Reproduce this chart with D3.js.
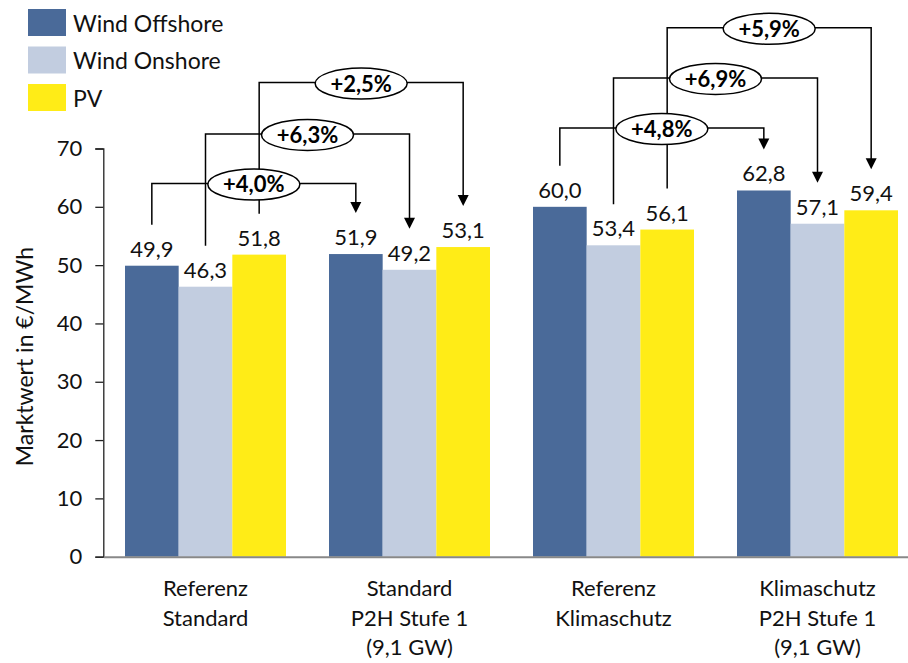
<!DOCTYPE html>
<html>
<head>
<meta charset="utf-8">
<script src="https://cdn.jsdelivr.net/npm/d3@7"></script>
<style>
  html, body { margin: 0; padding: 0; background: #fff; }
  svg { display: block; font-family: Lato, "Open Sans", sans-serif; }
</style>
</head>
<body>
<div id="chart"></div>
<script>
// Data
const categories = [
    ["Referenz", "Standard"],
    ["Standard", "P2H Stufe 1", "(9,1 GW)"],
    ["Referenz", "Klimaschutz"],
    ["Klimaschutz", "P2H Stufe 1", "(9,1 GW)"]
];
const seriesNames = ["Wind Offshore", "Wind Onshore", "PV"];
const offshore = [49.9, 51.9, 60.0, 62.8];
const onshore = [46.3, 49.2, 53.4, 57.1];
const pv = [51.8, 53.1, 56.1, 59.4];
const yTicks = [0, 10, 20, 30, 40, 50, 60, 70];

// change brackets: from group -> to group, for one series, drawn at a value level
const changes = [
    { from: 0, to: 1, series: 0, label: "+4,0%", level: 64.0 },
    { from: 0, to: 1, series: 1, label: "+6,3%", level: 72.5 },
    { from: 0, to: 1, series: 2, label: "+2,5%", level: 81.3 },
    { from: 2, to: 3, series: 0, label: "+4,8%", level: 73.5 },
    { from: 2, to: 3, series: 1, label: "+6,9%", level: 82.1 },
    { from: 2, to: 3, series: 2, label: "+5,9%", level: 90.7 }
];

const values = [offshore, onshore, pv];
const colors = ["#4a6a99", "#c2cde0", "#ffec17"];

const W = 908, H = 663;
const svg = d3.select("#chart").append("svg")
    .attr("width", W).attr("height", H);

const x0 = d3.scaleBand().domain(d3.range(categories.length)).range([103.5, 919.5]);
const x1 = d3.scaleBand().domain(d3.range(seriesNames.length)).range([21.5, x0.bandwidth() - 21.5]);
const y = d3.scaleLinear().domain([0, 70]).range([556.7, 148.5]);

const fmt = v => d3.format(".1f")(v).replace(".", ",");
const cx = (g, s) => x0(g) + x1(s) + x1.bandwidth() / 2;

// Bars
const groups = svg.append("g").selectAll("g")
    .data(categories.map((c, i) => i)).join("g")
    .attr("transform", i => `translate(${x0(i)},0)`);

groups.selectAll("rect")
    .data(i => values.map((arr, s) => ({ s, v: arr[i] })))
    .join("rect")
    .attr("x", d => x1(d.s))
    .attr("width", x1.bandwidth())
    .attr("y", d => y(d.v))
    .attr("height", d => y(0) - y(d.v))
    .attr("fill", d => colors[d.s]);

groups.selectAll("text")
    .data(i => values.map((arr, s) => ({ s, v: arr[i] })))
    .join("text")
    .attr("x", d => x1(d.s) + x1.bandwidth() / 2)
    .attr("y", d => y(d.v) - 9)
    .attr("text-anchor", "middle")
    .style("font-size", "22px")
    .style("fill", "#111")
    .text(d => fmt(d.v));

// Y axis
const yAxis = svg.append("g")
    .attr("transform", "translate(103.3,0)")
    .call(d3.axisLeft(y).tickValues(yTicks).tickSize(8).tickPadding(13));
yAxis.select(".domain").attr("stroke", "#222").attr("stroke-width", 1.3);
yAxis.selectAll(".tick line").attr("stroke", "#222").attr("stroke-width", 1.3);
yAxis.selectAll("text")
    .style("font-family", "Lato, sans-serif")
    .style("font-size", "22px")
    .style("fill", "#111");

// X axis
const xAxis = svg.append("g")
    .attr("transform", `translate(0,${y(0)})`)
    .call(d3.axisBottom(x0).tickSize(0).tickFormat(""));
xAxis.select(".domain").attr("stroke", "#888").attr("stroke-width", 2);

const catLabels = svg.append("g").selectAll("text")
    .data(categories.map((c, i) => i)).join("text")
    .attr("text-anchor", "middle")
    .style("font-size", "22px")
    .style("fill", "#111");
catLabels.selectAll("tspan")
    .data(i => categories[i].map(t => ({ t, i })))
    .join("tspan")
    .attr("x", d => x0(d.i) + x0.bandwidth() / 2)
    .attr("y", (d, k) => 596 + k * 29.5)
    .text(d => d.t);

// Axis title
svg.append("text")
    .attr("transform", `translate(33,${(y(0) + y(70)) / 2 + 4}) rotate(-90)`)
    .attr("text-anchor", "middle")
    .style("font-size", "23px")
    .style("fill", "#111")
    .text("Marktwert in €/MWh");

// Legend
const legend = svg.append("g").selectAll("g")
    .data(seriesNames).join("g")
    .attr("transform", (d, i) => `translate(28,${9 + i * 37.5})`);
legend.append("rect").attr("width", 38).attr("height", 27).attr("fill", (d, i) => colors[i]);
legend.append("text").attr("x", 45).attr("y", 22.5)
    .style("font-size", "23px").style("fill", "#111").text(d => d);

// Change brackets
const gap = 41;
const ann = svg.append("g");
changes.forEach(c => {
    const xa = cx(c.from, c.series), xb = cx(c.to, c.series);
    const ya = y(values[c.series][c.from]) - gap;
    const yb = y(values[c.series][c.to]) - gap;
    const yl = y(c.level);
    ann.append("path")
        .attr("d", `M${xa},${ya}V${yl}H${xb}V${yb - 10}`)
        .attr("fill", "none").attr("stroke", "#000").attr("stroke-width", 1.5);
    ann.append("path")
        .attr("d", `M${xb - 5.5},${yb - 11}L${xb + 5.5},${yb - 11}L${xb},${yb}Z`)
        .attr("fill", "#000");
});
const bubbles = svg.append("g");
changes.forEach(c => {
    const xm = (cx(c.from, c.series) + cx(c.to, c.series)) / 2;
    const yl = y(c.level) + 1;
    bubbles.append("ellipse")
        .attr("cx", xm).attr("cy", yl).attr("rx", 46).attr("ry", 15.5)
        .attr("fill", "#fff").attr("stroke", "#000").attr("stroke-width", 1.5);
    bubbles.append("text")
        .attr("x", xm).attr("y", yl + 8)
        .attr("text-anchor", "middle")
        .style("font-size", "22px").style("font-weight", "700")
        .style("fill", "#000")
        .text(c.label);
});
</script>
</body>
</html>
